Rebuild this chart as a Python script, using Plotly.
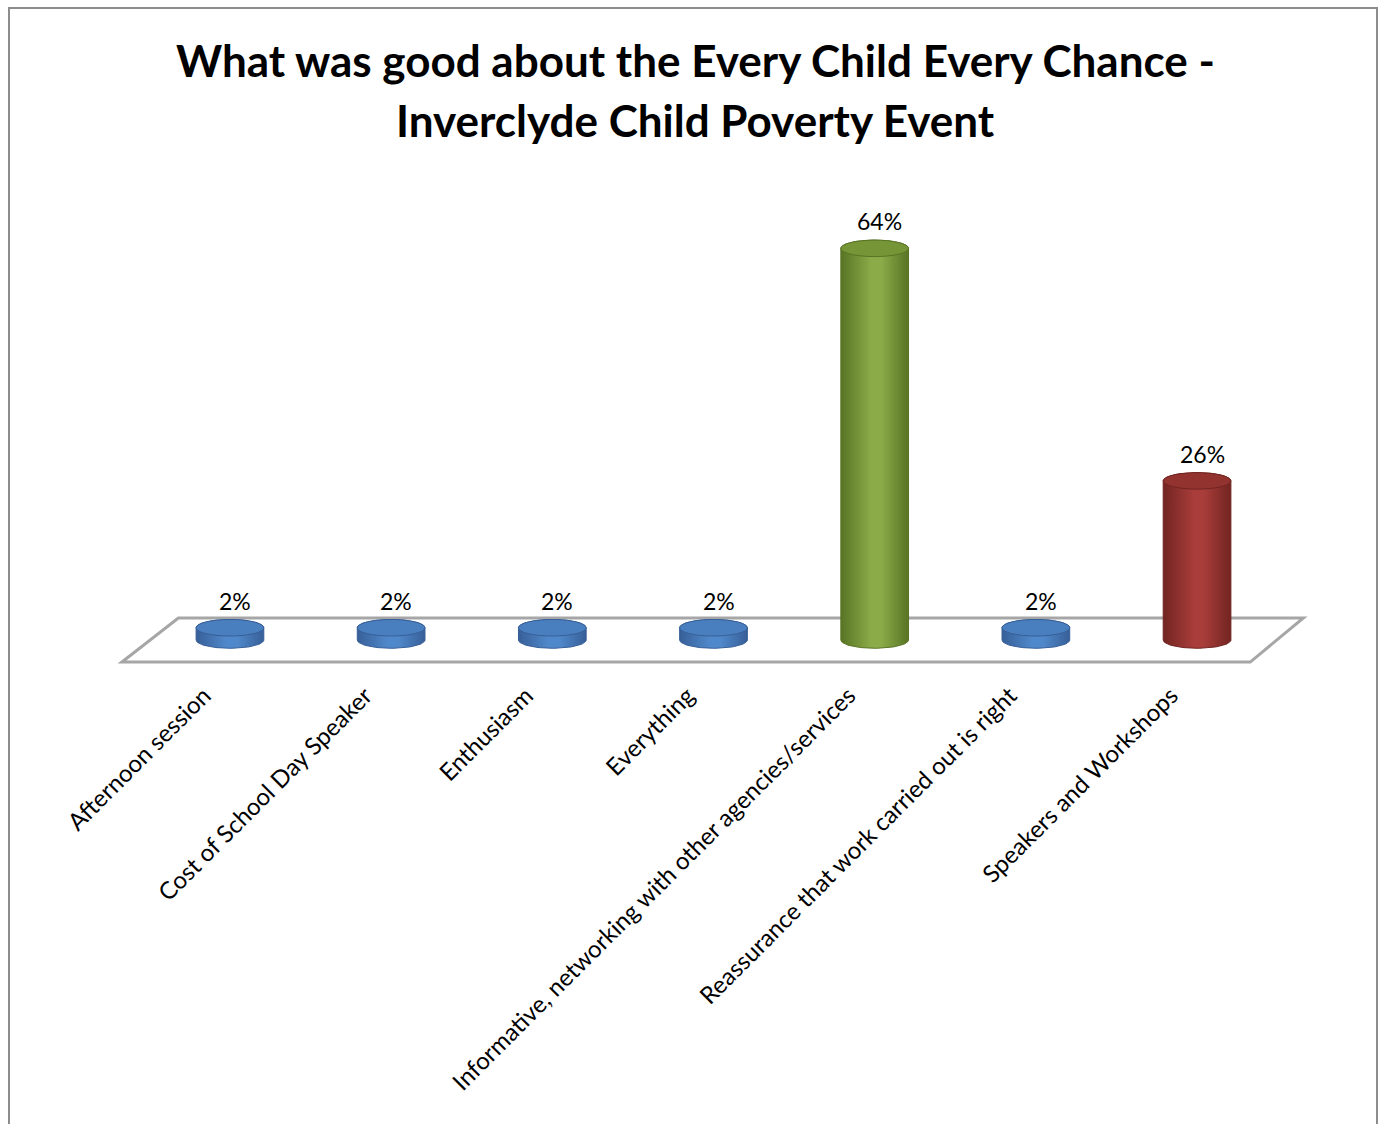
import math
import plotly.graph_objects as go

categories = ["Afternoon session", "Cost of School Day Speaker", "Enthusiasm", "Everything",
              "Informative, networking with other agencies/services",
              "Reassurance that work carried out is right", "Speakers and Workshops"]
values = [2, 2, 2, 2, 64, 2, 26]
labels = ["2%", "2%", "2%", "2%", "64%", "2%", "26%"]
edge_colors = ["#375f98", "#375f98", "#375f98", "#375f98", "#587425", "#722421", "#722421"]
mid_colors = ["#5089cb", "#5089cb", "#5089cb", "#5089cb", "#8aab48", "#a83d3a", "#a83d3a"]
cap_colors = ["#4a7fbf", "#4a7fbf", "#4a7fbf", "#4a7fbf", "#759536", "#92332f", "#92332f"]
# fix per-category colours (blue, green, red)
edge_colors[5] = "#375f98"
mid_colors[5] = "#5089cb"
cap_colors[5] = "#4a7fbf"

title_lines = ["What was good about the Every Child Every Chance -", "Inverclyde Child Poverty Event"]

W, H = 1385, 1124
L, R, T, B = 101, 59, 200, 454
XR = [-0.8, 6.8]
YR = [-4.9, 71.9]
BAR_W = 0.42
RY = 1.35  # ellipse half-height in value units
N = 40

fig = go.Figure()
xs = list(range(len(categories)))

for i, (v, e, m) in enumerate(zip(values, edge_colors, mid_colors)):
    rx = BAR_W / 2
    px, py = [], []
    # bottom front arc, left to right
    for k in range(N + 1):
        a = math.pi + math.pi * k / N
        px.append(i + rx * math.cos(a))
        py.append(RY * math.sin(a))
    # right side up, then top arc back (upper half) right to left
    for k in range(N + 1):
        a = math.pi * k / N
        px.append(i + rx * math.cos(a))
        py.append(v + RY * math.sin(a))
    px.append(px[0]); py.append(py[0])
    fig.add_trace(go.Scatter(
        x=px, y=py, mode="lines", fill="toself", line=dict(color=e, width=1),
        fillgradient=dict(type="horizontal",
                          colorscale=[[0, e], [0.45, m], [0.6, m], [1, e]]),
        showlegend=False, hoverinfo="skip"))

shapes = []
# floor
shapes.append(dict(type="path", xref="x", yref="y", layer="below",
                   path="M -0.67,-3.6 L -0.32,3.6 L 6.66,3.6 L 6.33,-3.6 Z",
                   fillcolor="white", line=dict(color="#a6a6a6", width=3)))
# top caps
for i, (v, c, e) in enumerate(zip(values, cap_colors, edge_colors)):
    shapes.append(dict(type="circle", xref="x", yref="y", layer="above",
                       x0=i - BAR_W / 2, x1=i + BAR_W / 2, y0=v - RY, y1=v + RY,
                       fillcolor=c, line=dict(color=e, width=1)))

pw = W - L - R
ph = H - T - B
# outer border
shapes.append(dict(type="rect", xref="paper", yref="paper",
                   x0=(9 - L) / pw, x1=(1377 - L) / pw,
                   y0=(H - B - 1140) / ph, y1=(H - B - 8) / ph,
                   line=dict(color="#8c8c8c", width=2), fillcolor="rgba(0,0,0,0)"))

annotations = []
for i, (v, t) in enumerate(zip(values, labels)):
    annotations.append(dict(x=i, y=v, xref="x", yref="y", text=t, showarrow=False,
                            yanchor="middle", yshift=27, xshift=5,
                            font=dict(family="Lato", size=23, color="black")))
for line, ypx in zip(title_lines, [60, 120]):
    annotations.append(dict(x=(695 - L) / pw, y=(H - B - ypx) / ph, xref="paper", yref="paper",
                            text=line, showarrow=False, xanchor="center", yanchor="middle",
                            font=dict(family="Lato", size=44, color="black", weight="bold")))

fig.update_layout(
    width=W, height=H,
    margin=dict(l=L, r=R, t=T, b=B, autoexpand=False),
    paper_bgcolor="white", plot_bgcolor="white",
    xaxis=dict(range=XR, tickmode="array", tickvals=xs, ticktext=categories, tickangle=-45,
               showline=False, showgrid=False, zeroline=False, ticks="",
               tickfont=dict(family="Lato", size=24, color="black"),
               ticklabelshift=-26, ticklabelstandoff=6),
    yaxis=dict(range=YR, visible=False, showgrid=False, zeroline=False),
    shapes=shapes, annotations=annotations, showlegend=False,
)

fig.write_html("out.html")
